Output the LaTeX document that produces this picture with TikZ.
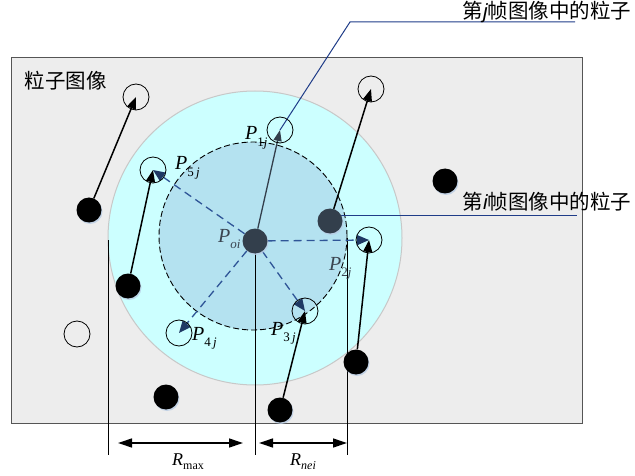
\documentclass[tikz,border=0pt]{standalone}
\usepackage{fontspec}
\setmainfont{Liberation Serif}
\newfontfamily\cjk{Noto Sans CJK SC}
\newfontfamily\lsans{Liberation Sans}
\usetikzlibrary{arrows.meta,shadows,backgrounds}
\definecolor{bgray}{HTML}{EDEDED}
\definecolor{rectc}{HTML}{555555}
\definecolor{cyanf}{HTML}{CCFFFF}
\definecolor{circb}{HTML}{C8C8C8}
\definecolor{innerf}{HTML}{B4E2F0}
\definecolor{slate}{HTML}{333F4C}
\definecolor{dashblue}{HTML}{2F5597}
\definecolor{navy}{HTML}{1F3864}
\definecolor{callc}{HTML}{1F3C88}
\definecolor{shadc}{HTML}{B8CCE4}
\definecolor{labg}{HTML}{3A4450}
\newcommand\plab[2]{\textit{P}\raisebox{-0.33em}{\fontsize{13}{13}\selectfont #1\textit{#2}}}
\begin{document}
\begin{tikzpicture}[x=1pt,y=-1pt,
  solidp/.style={circle,fill=black,minimum size=25pt,inner sep=0pt,
    drop shadow={shadow xshift=1pt,shadow yshift=-1.5pt,fill=shadc,opacity=0.8}},
  slatep/.style={solidp,fill=slate},
  openp/.style={circle,draw=black,line width=0.8pt,minimum size=26pt,inner sep=0pt},
  blackarr/.style={line width=1.5pt,-{Triangle[length=12pt,width=9pt]}},
  poiarr/.style={line width=1.3pt,draw=slate,-{Triangle[length=11pt,width=8pt]}},
  dasharr/.style={line width=1.3pt,draw=dashblue,dash pattern=on 8pt off 5pt,-{Triangle[length=12pt,width=10pt,color=navy]}},
  dimarr/.style={line width=1.3pt,{Triangle[length=14pt,width=9pt]}-{Triangle[length=14pt,width=9pt]}},
  extline/.style={line width=1pt,draw=black},
  callout/.style={line width=1pt,draw=callc},
  cjklab/.style={font=\cjk\fontsize{20.5}{20.5}\selectfont,inner sep=0pt},
  plabel/.style={font=\fontsize{20}{20}\selectfont,inner sep=0pt,anchor=base west},
  rlabel/.style={font=\fontsize{18}{18}\selectfont,inner sep=0pt,anchor=base west}]
\useasboundingbox (0,0) rectangle (635,476);

% particles (main layer)
\node[openp] (o1) at (136,97) {};
\node[openp] (p5) at (153,170) {};
\node[openp] (p1) at (280,130) {};
\node[openp] (o2) at (371,89) {};
\node[openp] (p2) at (369,240) {};
\node[openp] (p3) at (305,311) {};
\node[openp] (p4) at (179,333) {};
\node[openp] (o3) at (77,334) {};

\node[solidp] (b1) at (89,210) {};
\node[solidp] (b2) at (128,286) {};
\node[solidp] (b3) at (166,397) {};
\node[solidp] (b4) at (280,410) {};
\node[solidp] (b5) at (356,362) {};
\node[solidp] (b6) at (445,181) {};
\node[slatep] (pi) at (330,221) {};
\node[slatep] (poi) at (255,241) {};

\begin{scope}[on background layer]
  \node[draw=rectc,fill=bgray,line width=1pt,minimum width=571pt,minimum height=366pt,
        inner sep=0pt,anchor=north west] (img) at (11,57) {};
  \node[circle,fill=cyanf,draw=circb,line width=1pt,minimum size=294pt,inner sep=0pt] (bigc) at (255,238) {};
  \node[circle,fill=innerf,draw=black,line width=0.9pt,dash pattern=on 6pt off 3pt,
        minimum size=188pt,inner sep=0pt] (innc) at (253,236) {};
  % extension lines
  \coordinate (e1t) at (108,240); \coordinate (e1b) at (108,455);
  \coordinate (e2b) at (255,455);
  \coordinate (e3t) at (347,238); \coordinate (e3b) at (347,455);
  \draw[extline] (e1t) -- (e1b);
  \draw[extline] (poi.center) -- (e2b);
  \draw[extline] (e3t) -- (e3b);
  % callouts
  \coordinate (c1k) at (350,22); \coordinate (c1e) at (575,22);
  \draw[callout] (p1.center) -- (c1k) -- (c1e);
  \coordinate (c2a) at (335,216); \coordinate (c2e) at (577,216);
  \draw[callout] (c2a) -- (c2e);
  % motion arrows
  \draw[blackarr] (b1) -- (o1.center);
  \draw[blackarr] (b2) -- (p5.center);
  \draw[blackarr] (b4) -- (p3.center);
  \draw[blackarr] (b5) -- (p2.center);
  \draw[blackarr] (pi) -- (o2.center);
  \draw[poiarr] (poi) -- (p1.center);
  % dashed neighbour arrows
  \draw[dasharr] (poi) -- (p5.center);
  \draw[dasharr] (poi) -- (p2.center);
  \draw[dasharr] (poi) -- (p3.center);
  \draw[dasharr] (poi) -- (p4.center);
\end{scope}

% dimension arrows
\coordinate (d1a) at (118,443); \coordinate (d1b) at (243,443);
\coordinate (d2a) at (259,443); \coordinate (d2b) at (347,443);
\draw[dimarr] (d1a) -- (d1b);
\draw[dimarr] (d2a) -- (d2b);

% labels
\node[cjklab] (ltitle) at (65.5,81) {粒子图像};
\node[cjklab] (lj) at (547,11.5) {第{\lsans\itshape j}帧图像中的粒子};
\node[cjklab] (li) at (547,202) {第{\lsans\itshape i}帧图像中的粒子};

\node[plabel] (l1) at (245,140) {\plab{1}{j}};
\node[plabel] (l5) at (175,170) {\plab{5\,}{j}};
\node[plabel,text=labg] (lo) at (218,242) {\plab{}{oi}};
\node[plabel,text=labg] (l2) at (329,270) {\plab{2}{j}};
\node[plabel] (l3) at (271,335) {\plab{3\,}{j}};
\node[plabel] (l4) at (192,340) {\plab{4\,}{j}};

\node[rlabel] (rmax) at (172,465) {\textit{R}\raisebox{-0.25em}{\fontsize{12}{12}\selectfont max}};
\node[rlabel] (rnei) at (290,465) {\textit{R}\raisebox{-0.25em}{\fontsize{12}{12}\selectfont\itshape nei}};
\end{tikzpicture}
\end{document}
